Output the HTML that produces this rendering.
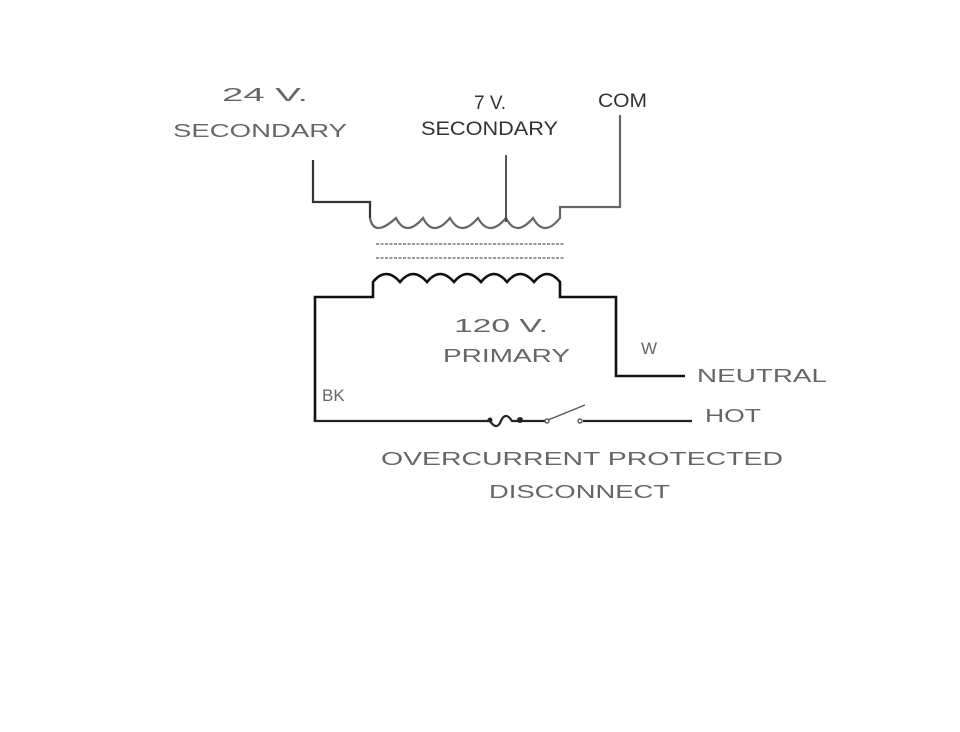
<!DOCTYPE html>
<html><head><style>html,body{margin:0;padding:0;background:#fff}svg{display:block}</style></head>
<body>
<svg width="960" height="732" viewBox="0 0 960 732" xmlns="http://www.w3.org/2000/svg" font-family="Liberation Sans, Arial, sans-serif">
<g fill="none" stroke="#333" stroke-width="2.2">
<path d="M313 160 V202 H370 V218"/>
<path d="M370 218 Q374 238 396 218 Q406 238 423 218 Q433 238 450 218 Q461 238 478 218 Q489 238 506 218 Q516 238 533 218 Q544 238 560 218 V207 H620 V115" stroke="#666"/>
<path d="M506 155 V222" stroke="#444" stroke-width="1.8"/>
<path d="M315 422 V297 H373 V282 Q386 266 400 282 Q413 266 427 282 Q440 266 454 282 Q467 266 481 282 Q494 266 507 282 Q520 266 534 282 Q547 266 560 282 V297 H616 V376 H685" stroke="#111" stroke-width="2.6"/>
<path d="M315 421 H490 Q496 430 500 423 Q505 410 512 421 H518 H545" stroke="#222"/>
<path d="M548 420 L585 405" stroke="#555" stroke-width="1.4"/>
<circle cx="547" cy="421" r="2" fill="#fff" stroke="#444" stroke-width="1.2"/>
<circle cx="580" cy="421" r="2" fill="#fff" stroke="#444" stroke-width="1.2"/>
<path d="M583 421 H692" stroke="#222"/>
<circle cx="490" cy="420" r="2.5" fill="#222" stroke="none"/>
<circle cx="520" cy="420" r="3" fill="#222" stroke="none"/>
</g>
<g stroke="#999" stroke-width="2" stroke-dasharray="3 1.5">
<path d="M376 244 H565"/><path d="M376 258 H565"/>
</g>
<g fill="#666" font-size="18">
<text x="222" y="101" textLength="86" lengthAdjust="spacingAndGlyphs">24  V.</text>
<text x="173" y="137" textLength="174" lengthAdjust="spacingAndGlyphs">SECONDARY</text>
<text x="454" y="332" textLength="94" lengthAdjust="spacingAndGlyphs">120  V.</text>
<text x="443" y="362" textLength="127" lengthAdjust="spacingAndGlyphs">PRIMARY</text>
<text x="641" y="354" font-size="17">W</text>
<text x="697" y="382" textLength="130" lengthAdjust="spacingAndGlyphs">NEUTRAL</text>
<text x="322" y="401" font-size="17">BK</text>
<text x="705" y="422" textLength="56" lengthAdjust="spacingAndGlyphs">HOT</text>
<text x="381" y="465" textLength="402" lengthAdjust="spacingAndGlyphs">OVERCURRENT   PROTECTED</text>
<text x="489" y="498" textLength="181" lengthAdjust="spacingAndGlyphs">DISCONNECT</text>
</g>
<g fill="#333" font-size="19">
<text x="490" y="109" text-anchor="middle">7 V.</text>
<text x="421" y="135" textLength="137" lengthAdjust="spacingAndGlyphs">SECONDARY</text>
<text x="598" y="107" textLength="49" lengthAdjust="spacingAndGlyphs">COM</text>
</g>
</svg>
</body></html>
